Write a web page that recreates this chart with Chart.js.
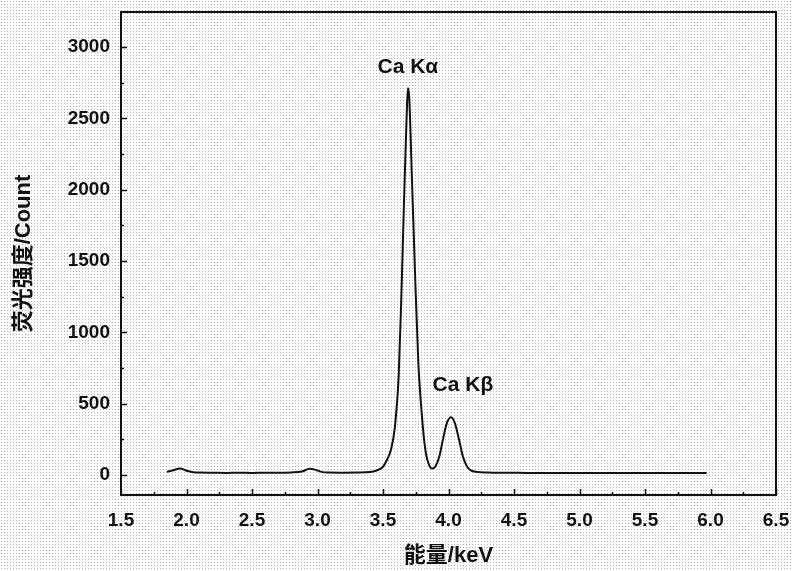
<!DOCTYPE html>
<html>
<head>
<meta charset="utf-8">
<script src="https://cdn.jsdelivr.net/npm/chart.js@4.4.0/dist/chart.umd.min.js"></script>
<style>
  html, body { margin: 0; padding: 0; background: #fff; }
  #wrap { width: 793px; height: 571px; }
</style>
</head>
<body>
<div id="wrap"><canvas id="spectrum" width="793" height="571"></canvas></div>
<script>
// ===== DATA =====
const energy = [
  1.85, 1.90, 1.95, 2.00, 2.05, 2.10, 2.20, 2.30, 2.40, 2.50, 2.60, 2.70, 2.80, 2.88,
  2.94, 2.98, 3.03, 3.10, 3.20, 3.30, 3.40, 3.45, 3.50, 3.53, 3.56, 3.59, 3.62, 3.64,
  3.66, 3.68, 3.69, 3.70, 3.72, 3.745, 3.77, 3.79, 3.81, 3.83, 3.85, 3.875, 3.90, 3.93, 3.96,
  3.99, 4.02, 4.05, 4.08, 4.11, 4.14, 4.17, 4.22, 4.30, 4.40, 4.60, 4.80, 5.00, 5.20,
  5.40, 5.60, 5.80, 5.97
];
const counts = [
  22, 34, 46, 30, 20, 17, 16, 15, 16, 15, 16, 16, 18, 24,
  44, 38, 22, 17, 16, 17, 21, 32, 58, 105, 175, 330, 700, 1250,
  1900, 2500, 2710, 2650, 2100, 1400, 780, 500, 280, 140, 75, 45, 60, 130, 260,
  370, 405, 360, 250, 130, 62, 32, 22, 18, 16, 15, 14, 14, 14,
  14, 14, 14, 14
];

const xTickValues = [1.5, 2.0, 2.5, 3.0, 3.5, 4.0, 4.5, 5.0, 5.5, 6.0, 6.5];
const yTickValues = [0, 500, 1000, 1500, 2000, 2500, 3000];

const peakLabels = ['Ca K\u03b1', 'Ca K\u03b2'];
const peakLabelX = [3.69, 4.11];
const peakLabelY = [2860, 630];

const xTitle = '能量/keV';
const yTitle = '荧光强度/Count';

// ===== STYLE =====
const ink = '#111';
const fontFamily = "'Liberation Sans', Arial, 'Noto Sans CJK SC', sans-serif";

// dotted halftone background + frame + inward ticks + peak labels
const framePlugin = {
  id: 'frame',
  beforeDraw(chart) {
    const { ctx, width, height } = chart;
    const tile = document.createElement('canvas');
    tile.width = 3; tile.height = 3;
    const tctx = tile.getContext('2d');
    tctx.fillStyle = '#ffffff';
    tctx.fillRect(0, 0, 3, 3);
    tctx.fillStyle = '#b4b4b4';
    tctx.fillRect(1, 1, 1, 1);
    ctx.save();
    ctx.fillStyle = ctx.createPattern(tile, 'repeat');
    ctx.fillRect(0, 0, width, height);
    ctx.restore();
  },
  afterDraw(chart) {
    const { ctx, chartArea: a, scales: { x, y } } = chart;
    ctx.save();
    ctx.strokeStyle = ink;
    ctx.lineWidth = 2;
    ctx.strokeRect(a.left, a.top, a.right - a.left, a.bottom - a.top);

    ctx.lineWidth = 1.5;
    ctx.beginPath();
    // x ticks every 0.25, pointing up into the plot
    for (let i = 0; i <= 20; i++) {
      const v = 1.5 + i * 0.25;
      const px = Math.round(x.getPixelForValue(v)) + 0.5;
      const len = i % 2 === 0 ? 6 : 3;
      ctx.moveTo(px, a.bottom);
      ctx.lineTo(px, a.bottom - len);
    }
    // y ticks every 250, pointing right into the plot
    for (let i = 0; i <= 12; i++) {
      const v = i * 250;
      const py = Math.round(y.getPixelForValue(v)) + 0.5;
      const len = i % 2 === 0 ? 6 : 3;
      ctx.moveTo(a.left, py);
      ctx.lineTo(a.left + len, py);
    }
    ctx.stroke();

    ctx.fillStyle = ink;
    ctx.font = 'bold 21px ' + fontFamily;
    ctx.textAlign = 'center';
    ctx.textBaseline = 'middle';
    peakLabels.forEach((t, i) => {
      ctx.fillText(t, x.getPixelForValue(peakLabelX[i]), y.getPixelForValue(peakLabelY[i]));
    });
    ctx.restore();
  }
};

new Chart(document.getElementById('spectrum'), {
  type: 'scatter',
  data: {
    datasets: [{
      data: energy.map((e, i) => ({ x: e, y: counts[i] })),
      showLine: true,
      borderColor: ink,
      borderWidth: 2,
      pointRadius: 0,
      cubicInterpolationMode: 'monotone',
      fill: false
    }]
  },
  options: {
    responsive: false,
    animation: false,
    layout: { padding: { top: 12, right: 17, left: 0, bottom: 0 } },
    plugins: {
      legend: { display: false },
      tooltip: { enabled: false }
    },
    scales: {
      x: {
        type: 'linear',
        min: 1.5,
        max: 6.5,
        afterBuildTicks: s => { s.ticks = xTickValues.map(v => ({ value: v })); },
        afterFit: s => { s.height = 76; s.paddingLeft = 0; s.paddingRight = 0; },
        grid: { display: false },
        border: { display: false },
        ticks: {
          padding: 6,
          color: ink,
          font: { family: fontFamily, size: 19, weight: 'bold' },
          callback: v => v.toFixed(1)
        },
        title: {
          display: true,
          text: xTitle,
          color: ink,
          font: { family: fontFamily, size: 22, weight: 'bold' },
          padding: { top: 6, bottom: 2 }
        }
      },
      y: {
        type: 'linear',
        min: -140,
        max: 3245,
        afterBuildTicks: s => { s.ticks = yTickValues.map(v => ({ value: v })); },
        afterFit: s => { s.width = 121; s.paddingTop = 0; s.paddingBottom = 0; },
        grid: { display: false },
        border: { display: false },
        ticks: {
          padding: 3,
          color: ink,
          font: { family: fontFamily, size: 19, weight: 'bold' },
          callback: v => String(v)
        },
        title: {
          display: true,
          text: yTitle,
          color: ink,
          font: { family: fontFamily, size: 22, weight: 'bold' },
          padding: { top: 11, bottom: 8 }
        }
      }
    }
  },
  plugins: [framePlugin]
});
</script>
</body>
</html>
